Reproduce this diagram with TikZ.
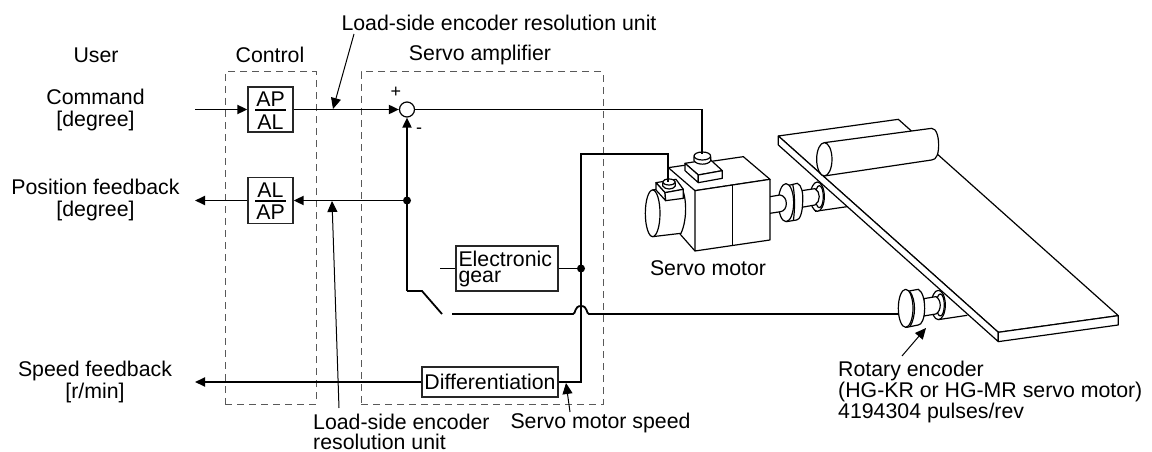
\documentclass[tikz,border=0pt]{standalone}
\usepackage{fontspec}
\setmainfont{Liberation Sans}
\usetikzlibrary{arrows.meta}
\tikzset{
  sig/.style={line width=1.8pt},
  sigarrow/.style={line width=1.8pt,-{Triangle[length=10pt,width=9pt]}},
  leader/.style={line width=1pt,-{Triangle[length=11pt,width=10pt]}},
  zone/.style={draw=black!65,line width=1pt,dash pattern=on 7pt off 5pt},
  block/.style={draw=black!85,line width=1.3pt,fill=white,inner sep=0pt,font=\fontsize{21.3}{16}\selectfont},
  lab/.style={font=\fontsize{21.3}{22.5}\selectfont,align=center,inner sep=0pt},
  labl/.style={font=\fontsize{21.3}{21.3}\selectfont,inner sep=0pt,align=left,anchor=west},
  labt/.style={font=\fontsize{21.3}{20}\selectfont,inner sep=0pt,align=left,anchor=west},
  sign/.style={font=\fontsize{18}{18}\selectfont,inner sep=0pt},
  dot/.style={circle,fill=black,inner sep=0pt,minimum size=8pt},
  mech/.style={line width=1.2pt,fill=white,line join=round},
  mechopen/.style={line width=1.2pt,line join=round},
}
\begin{document}
\begin{tikzpicture}[x=1pt,y=-1pt]
\useasboundingbox (0,0) rectangle (1152,452);
\fill[white] (0,0) rectangle (1152,452);
% zones
\node[zone,minimum width=91pt,minimum height=332pt,inner sep=0pt] (ctrl) at (270.5,238) {};
\node[zone,minimum width=242pt,minimum height=332pt,inner sep=0pt] (amp) at (482,238) {};
% headers
\node[lab] (luser) at (96,55) {User};
\node[lab] (lctrl) at (270,55) {Control};
\node[lab] (lamp) at (480,55) {Servo amplifier};
\node[lab] (lload1) at (499,23) {Load-side encoder resolution unit};
\node[lab] (lcmd) at (95.5,110) {Command\\{}[degree]};
\node[lab] (lpos) at (95.5,200) {Position feedback\\{}[degree]};
\node[lab] (lspd) at (95,382) {Speed feedback\\{}[r/min]};
\node[labt] (lload2) at (313,431.5) {Load-side encoder\\resolution unit};
\node[lab] (lsm) at (600.5,423) {Servo motor speed};
\node[lab] (lmotor) at (708,268) {Servo motor};
\node[labl] (lrot) at (838,392) {Rotary encoder\\(HG-KR or HG-MR servo motor)\\4194304 pulses/rev};
% blocks
\node[block,minimum width=45pt,minimum height=45pt] (apal) at (270.5,109.5) {};
\node[lab] (tap1) at (270.5,99) {AP};
\node[lab] (tal1) at (270.5,122.5) {AL};
\draw[line width=1.2pt] (255,110) -- (286,110);
\node[block,minimum width=45pt,minimum height=46pt] (alap) at (270.5,200.5) {};
\node[lab] (tal2) at (270.5,190) {AL};
\node[lab] (tap2) at (270.5,212.5) {AP};
\draw[line width=1.2pt] (255,201) -- (286,201);
\node[block,minimum width=102pt,minimum height=45pt,align=left,text width=97pt] (gear) at (507,268.5) {Electronic\\gear};
\node[block,minimum width=136pt,minimum height=30pt] (diff) at (490,382) {Differentiation};
\node[draw,line width=1.2pt,fill=white,circle,inner sep=0pt,minimum size=15pt] (sum) at (407,109.5) {};
\node[sign] (plus) at (396,92) {+};
\node[sign] (minus) at (419,131) {-};
% junctions
\node[dot] (jfb) at (407,200.5) {};
\node[dot] (jgear) at (581,268.5) {};
% free ends
\coordinate (cin) at (195,109.5);
\coordinate (cout1) at (195,200.5);
\coordinate (cout2) at (195,382);
\coordinate (sw0) at (407,291);
\coordinate (sw1) at (422,291);
\coordinate (sw2) at (442,314);
\coordinate (sw3) at (452,314);
\coordinate (h1) at (573,314);
\coordinate (h2) at (589,314);
\coordinate (enc) at (898,314);
\coordinate (gl) at (440,268.5);
\coordinate (m1) at (581,382);
\coordinate (m2) at (581,154);
\coordinate (m3) at (668,154);
\coordinate (m4) at (668,182);
\coordinate (t1) at (702,109.5);
\coordinate (t2) at (702,154);
% signal lines
\draw[sigarrow] (cin) -- (apal);
\draw[sigarrow] (apal) -- (sum);
\draw[sig] (sum) -- (t1) -- (t2);
\draw[sigarrow] (sw0) -- (sum);
\draw[sigarrow] (jfb) -- (alap);
\draw[sigarrow] (alap) -- (cout1);
\draw[sigarrow] (diff) -- (cout2);
\draw[sig] (diff) -- (m1) -- (m2) -- (m3) -- (m4);
\draw[sig] (sw2) -- (sw1) -- (sw0);
\draw[sig] (gl) -- (gear);
\draw[sig] (gear) -- (jgear);
\draw[sig] (sw3) -- (h1) .. controls (576,314) and (574,306) .. (581,306) .. controls (588,306) and (586,314) .. (h2) -- (enc);
% leaders
\coordinate (a1) at (354,34);
\coordinate (a1t) at (333,109);
\coordinate (a2) at (339,408);
\coordinate (a2t) at (332,201);
\coordinate (a3) at (570,412);
\coordinate (a3t) at (566,383);
\coordinate (a4) at (902,356);
\coordinate (a4t) at (926,328);
\draw[leader] (a1) -- (a1t);
\draw[leader] (a2) -- (a2t);
\draw[leader] (a3) -- (a3t);
\draw[leader] (a4) -- (a4t);
% table
\begin{scope}[shift={(760,60)},x=0.3333pt,y=-0.3333pt]
\draw[mech] (55,228) -- (415,178) -- (1075,767) -- (715,817) -- cycle;
\draw[mech] (55,228) -- (55,255) -- (715,845) -- (715,817) -- cycle;
\draw[mech] (715,817) -- (1075,767) -- (1075,795) -- (715,845) -- cycle;
% roller
\draw[mech] (193,248) -- (515,205) .. controls (530,205) and (536,232) .. (536,255) .. controls (536,280) and (530,300) .. (515,300) -- (193,348) -- cycle;
\draw[mech] (193,298) ellipse (23 and 50);
% motor-side ball screw and coupling
\draw[mechopen] (262,440) -- (165,454);
\draw[mech] (172,410) ellipse (21 and 44);
\draw[mech] (178,410) ellipse (12 and 33);
\draw[mech] (125,392) -- (165,386) .. controls (182,395) and (182,425) .. (165,435) -- (125,442) -- cycle;
\draw[mech] (78,378) -- (112,370) .. controls (125,375) and (130,400) .. (128,425) .. controls (128,455) and (120,480) .. (110,480) -- (80,485) -- cycle;
\draw[mech] (78,428) ellipse (23 and 57);
\draw[mechopen] (98,373) .. controls (105,400) and (105,450) .. (100,482);
\draw[mech] (30,410) -- (60,405) .. controls (85,408) and (85,452) .. (62,455) -- (30,460);
% encoder
\draw[mechopen] (535,779) -- (622,766);
\draw[mech] (535,735) ellipse (21 and 44);
\draw[mech] (541,735) ellipse (12 and 33);
\draw[mech] (492,716) -- (528,710) .. controls (545,720) and (545,752) .. (528,762) -- (492,768) -- cycle;
\draw[mech] (437,695) -- (475,688) .. controls (488,695) and (494,720) .. (494,745) .. controls (494,775) and (485,795) .. (475,795) -- (440,802) -- cycle;
\draw[mech] (437,745) ellipse (22 and 57);
\draw[mechopen] (450,695) .. controls (468,720) and (468,770) .. (450,800);
\end{scope}
% motor
\begin{scope}[shift={(600,120)},x=0.3333pt,y=-0.3333pt]
\draw[mech] (205,143) -- (430,110) -- (510,178) -- (285,212) -- cycle;
\draw[mech] (285,212) -- (510,178) -- (510,360) -- (285,393) -- cycle;
\draw[mechopen] (398,195) -- (398,378);
\draw[mechopen] (240,342) -- (285,393);
\draw[mech] (158,210) -- (240,195) .. controls (262,225) and (262,300) .. (243,340) -- (158,350) -- cycle;
\draw[mech] (158,280) ellipse (22 and 70);
\draw[mech] (255,130) -- (330,118) -- (367,152) -- (295,165) -- cycle;
\draw[mech] (255,130) -- (255,152) -- (295,188) -- (295,165) -- cycle;
\draw[mech] (295,165) -- (367,152) -- (367,175) -- (295,188) -- cycle;
\draw[mech] (282,110) -- (282,122) .. controls (290,136) and (325,136) .. (332,122) -- (332,110);
\draw[mech] (307,108) ellipse (25 and 12);
\draw[mech] (168,188) -- (228,178) -- (250,208) -- (195,218) -- cycle;
\draw[mech] (168,188) -- (168,210) -- (197,242) -- (195,218) -- cycle;
\draw[mech] (195,218) -- (250,208) -- (250,235) -- (197,242) -- cycle;
\draw[mech] (188,188) -- (188,198) .. controls (195,210) and (220,210) .. (226,198) -- (226,188);
\draw[mech] (207,186) ellipse (19 and 9);
\end{scope}
\draw[sig] (m3) -- (m4);
\draw[sig] (t1) -- (t2);
\end{tikzpicture}
\end{document}
